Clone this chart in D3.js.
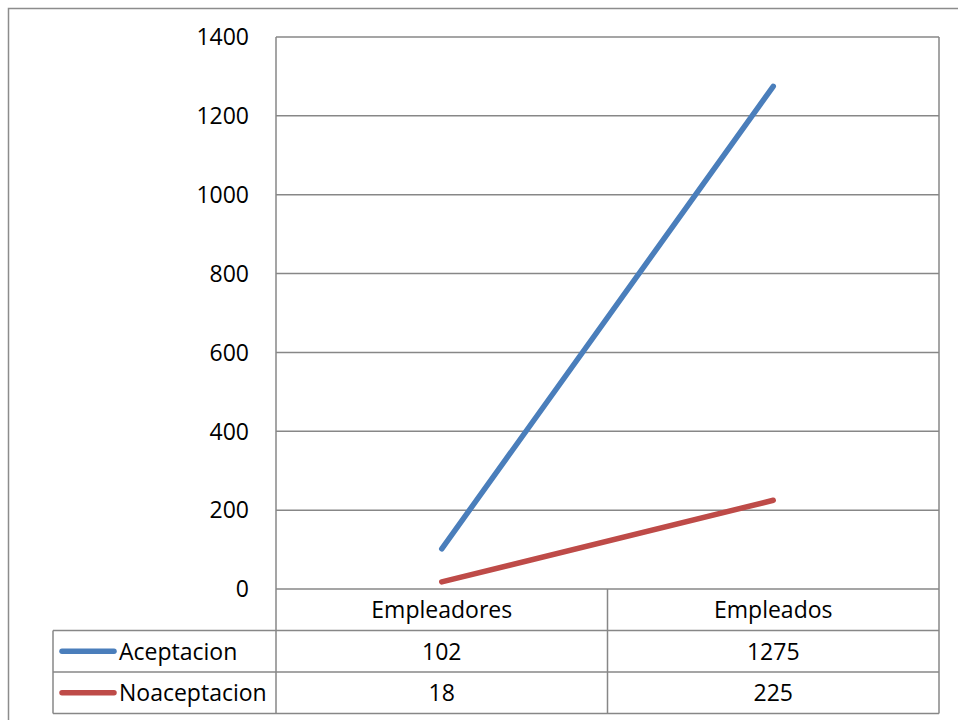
<!DOCTYPE html>
<html>
<head>
<meta charset="utf-8">
<script src="https://cdn.jsdelivr.net/npm/d3@7"></script>
<style>
  html, body { margin: 0; padding: 0; background: #fff; }
  svg { display: block; }
  text { font-family: "Open Sans", Lato, "Liberation Sans", sans-serif; fill: #000; }
</style>
</head>
<body>
<svg id="chart" width="958" height="720"></svg>
<script>
// Categories and series
const categories = ["Empleadores", "Empleados"];
const seriesNames = ["Aceptacion", "Noaceptacion"];
const aceptacion = [102, 1275];
const noaceptacion = [18, 225];
const yTicks = [0, 200, 400, 600, 800, 1000, 1200, 1400];
const seriesColors = ["#4a7ebb", "#be4b48"];

const svg = d3.select("#chart");
const W = 958, H = 720;
const fontSize = 23;

const plot = { left: 276, right: 939, top: 37, bottom: 589 };
const tableLeft = 53;
const rowH = 41.5;

// outer chart border
svg.append("rect")
  .attr("x", 8.5).attr("y", 8.5)
  .attr("width", W + 10).attr("height", H + 10)
  .attr("fill", "none").attr("stroke", "#8c8c8c").attr("stroke-width", 1.5);

const x = d3.scaleBand().domain(categories).range([plot.left, plot.right]);
const y = d3.scaleLinear().domain([0, 1400]).range([plot.bottom, plot.top]);

// horizontal gridlines
svg.append("g").selectAll("line").data(yTicks).join("line")
  .attr("x1", plot.left).attr("x2", plot.right)
  .attr("y1", d => y(d)).attr("y2", d => y(d))
  .attr("stroke", "#878787").attr("stroke-width", 1.5);

// y axis line
svg.append("line")
  .attr("x1", plot.left).attr("x2", plot.left)
  .attr("y1", plot.top).attr("y2", plot.bottom + rowH * 3)
  .attr("stroke", "#878787").attr("stroke-width", 1.5);

// y tick labels
svg.append("g").selectAll("text").data(yTicks).join("text")
  .attr("x", 249).attr("y", d => y(d))
  .attr("dy", "0.36em")
  .attr("text-anchor", "end")
  .attr("font-size", fontSize)
  .text(d => d);

// data table grid
const tableTop = plot.bottom;
const rows = [tableTop, tableTop + rowH, tableTop + 2 * rowH, tableTop + 3 * rowH];
const grid = svg.append("g").attr("stroke", "#878787").attr("stroke-width", 1.5);
grid.append("line").attr("x1", plot.right).attr("x2", plot.right)
  .attr("y1", plot.top).attr("y2", rows[3]);
grid.append("line").attr("x1", x.bandwidth() + plot.left).attr("x2", x.bandwidth() + plot.left)
  .attr("y1", rows[0]).attr("y2", rows[3]);
grid.append("line").attr("x1", tableLeft).attr("x2", tableLeft)
  .attr("y1", rows[1]).attr("y2", rows[3]);
grid.append("line").attr("x1", tableLeft).attr("x2", plot.right)
  .attr("y1", rows[1]).attr("y2", rows[1]);
grid.append("line").attr("x1", tableLeft).attr("x2", plot.right)
  .attr("y1", rows[2]).attr("y2", rows[2]);
grid.append("line").attr("x1", tableLeft).attr("x2", plot.right)
  .attr("y1", rows[3]).attr("y2", rows[3]);

// category headers
svg.append("g").selectAll("text").data(categories).join("text")
  .attr("x", d => x(d) + x.bandwidth() / 2)
  .attr("y", rows[0] + rowH / 2).attr("dy", "0.36em")
  .attr("text-anchor", "middle").attr("font-size", fontSize)
  .text(d => d);

// series lines, table rows and legend keys
const allSeries = [aceptacion, noaceptacion];
const line = d3.line()
  .x((d, i) => x(categories[i]) + x.bandwidth() / 2)
  .y(d => y(d));

allSeries.forEach((vals, s) => {
  svg.append("path")
    .datum(vals)
    .attr("d", line)
    .attr("fill", "none")
    .attr("stroke", seriesColors[s])
    .attr("stroke-width", 5.5)
    .attr("stroke-linecap", "round");

  const cy = rows[s + 1] + rowH / 2;
  svg.append("line")
    .attr("x1", 62).attr("x2", 114)
    .attr("y1", cy).attr("y2", cy)
    .attr("stroke", seriesColors[s]).attr("stroke-width", 5.5)
    .attr("stroke-linecap", "round");
  svg.append("text")
    .attr("x", 119).attr("y", cy).attr("dy", "0.36em")
    .attr("font-size", fontSize)
    .text(seriesNames[s]);

  svg.append("g").selectAll("text").data(vals).join("text")
    .attr("x", (d, i) => x(categories[i]) + x.bandwidth() / 2)
    .attr("y", cy).attr("dy", "0.36em")
    .attr("text-anchor", "middle").attr("font-size", fontSize)
    .text(d => d);
});
</script>
</body>
</html>
